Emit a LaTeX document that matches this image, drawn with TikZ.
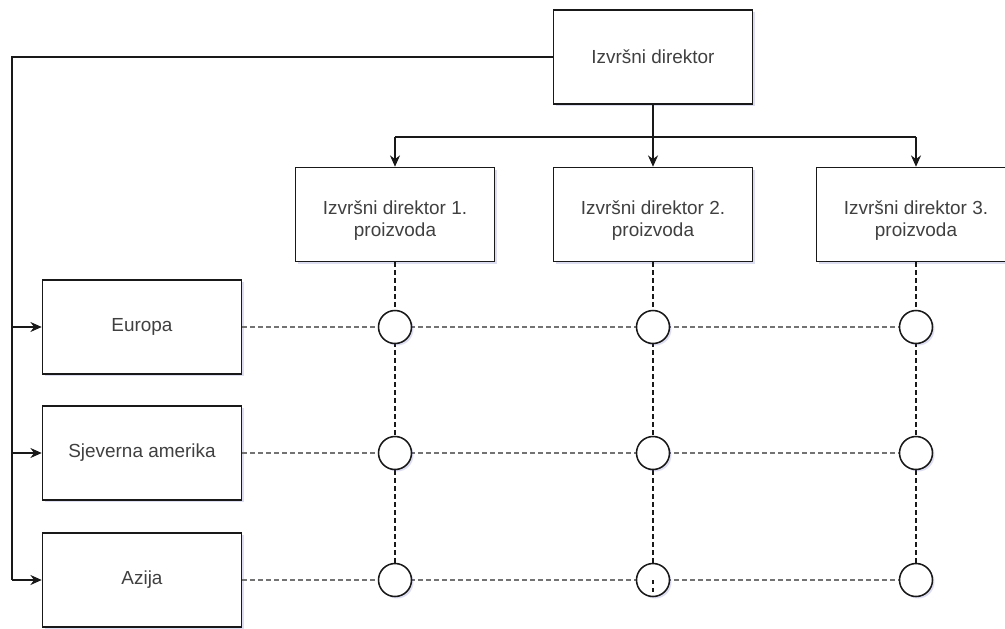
\documentclass[tikz,border=0pt]{standalone}
\usepackage{fontspec}
\setmainfont{Liberation Sans}
\usetikzlibrary{arrows.meta,shadows}
\newcommand{\lowstrut}{\rule{0pt}{19pt}}
\begin{document}
\begin{tikzpicture}[x=0.75pt,y=-0.75pt,
  shad/.style={drop shadow={shadow xshift=1.5pt,shadow yshift=-1.5pt,opacity=0.18,fill=blue!45!gray}},
  box/.style={draw=black!90,line width=1.15pt,fill=white,minimum width=149.25pt,minimum height=70.5pt,
    inner sep=2pt,align=center,text=black!75,font=\fontsize{14.2}{16.5}\selectfont,shad},
  dot/.style={circle,draw=black!90,line width=1.15pt,fill=white,minimum size=24.75pt,inner sep=0pt,shad},
  wire/.style={line width=1.1pt,black!90},
  link/.style={wire,-{Stealth[length=8.5pt,width=7.5pt]}},
  vdash/.style={line width=1.1pt,black!90,dash pattern=on 3.2pt off 2.8pt},
  hdash/.style={line width=1.1pt,black!55,dash pattern=on 3.2pt off 2.8pt}]
\useasboundingbox (0,0) rectangle (1005,628);
\fill[white] (0,0) rectangle (1005,628);

% top
\node[box] (ceo) at (653,57) {Izvršni direktor};
\node[box] (p1) at (395,214.5) {\lowstrut Izvršni direktor 1.\\proizvoda};
\node[box] (p2) at (653,214.5) {\lowstrut Izvršni direktor 2.\\proizvoda};
\node[box] (p3) at (916,214.5) {\lowstrut Izvršni direktor 3.\\proizvoda};

% regions
\node[box] (eu) at (142,327) {Europa};
\node[box] (na) at (142,453) {Sjeverna amerika};
\node[box] (as) at (142,580) {Azija};

% dashed grid lines
\draw[vdash] (p1.south) -- (395,580);
\draw[vdash] (p2.south) -- (653,580);
\draw[vdash] (p3.south) -- (916,580);
\draw[hdash] (eu.east) -- (916,327);
\draw[hdash] (na.east) -- (916,453);
\draw[hdash] (as.east) -- (916,580);

% circles
\foreach \r/\yy in {1/327,2/453,3/580}{
  \foreach \c/\xx in {1/395,2/653,3/916}{
    \node[dot] (c\r\c) at (\xx,\yy) {};
  }
}
\draw[vdash] (c32.center) -- (c32.south);

% connectors
\coordinate (lt) at (12,57);
\coordinate (lb) at (12,580);
\draw[wire] (ceo.west) -- (lt) -- (lb);
\draw[link] (lt |- eu.west) -- (eu.west);
\draw[link] (lt |- na.west) -- (na.west);
\draw[link] (lb) -- (as.west);

\coordinate (hl) at (395,137);
\coordinate (hr) at (916,137);
\draw[wire] (hl) -- (hr);
\draw[link] (hl) -- (p1.north);
\draw[link] (ceo.south) -- (p2.north);
\draw[link] (hr) -- (p3.north);
\end{tikzpicture}
\end{document}
